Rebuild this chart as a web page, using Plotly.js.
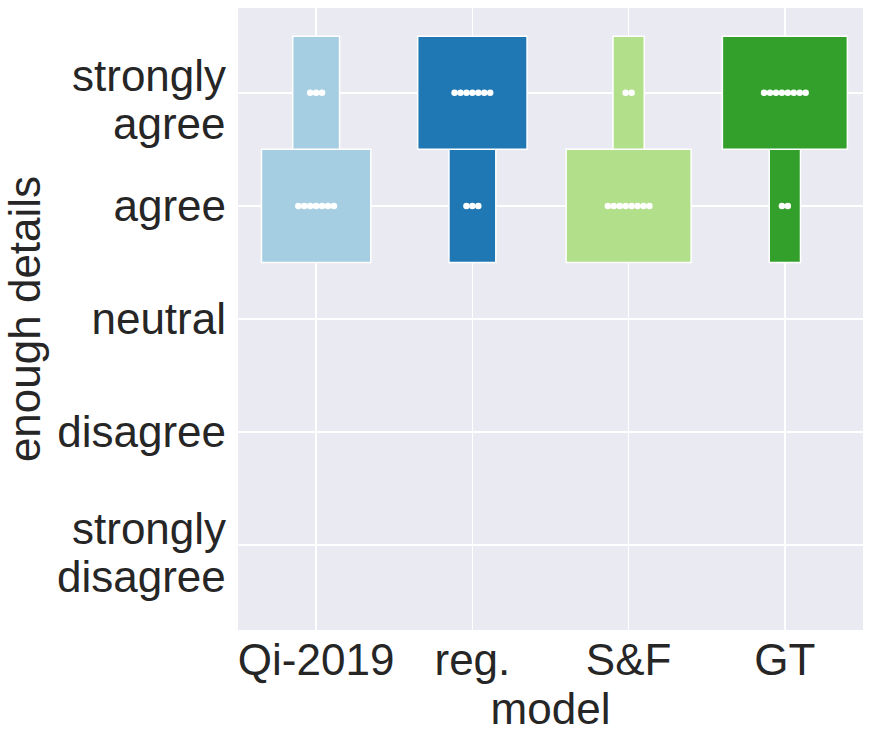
<!DOCTYPE html>
<html>
<head>
<meta charset="utf-8">
<script src="https://cdn.plot.ly/plotly-3.0.1.min.js"></script>
<style>html,body{margin:0;padding:0;background:#fff;}#chart{width:872px;height:737px;}</style>
</head>
<body>
<div id="chart"></div>
<script>
var models = ["Qi-2019", "reg.", "S&F", "GT"];
// y tick labels, one entry per level (bottom to top), each split into lines
var levels = [["strongly", "disagree"], ["disagree"], ["neutral"], ["agree"], ["strongly", "agree"]];
var colors = ["#a6cee3", "#1f78b4", "#b2df8a", "#33a02c"];
// counts of responses per model at each level (index matches levels)
var qiCounts  = [0, 0, 0, 7, 3];
var regCounts = [0, 0, 0, 3, 7];
var sfCounts  = [0, 0, 0, 8, 2];
var gtCounts  = [0, 0, 0, 2, 8];
var allCounts = [qiCounts, regCounts, sfCounts, gtCounts];
var totals = 10;
var dotStep = 0.038;

var traces = [];
allCounts.forEach(function (counts, m) {
  var xs = [], ys = [], ws = [], bs = [];
  counts.forEach(function (c, lv) {
    if (c > 0) {
      xs.push(m); ys.push(1); bs.push(lv - 0.5); ws.push(c / totals);
    }
  });
  traces.push({
    type: "bar", x: xs, y: ys, base: bs, width: ws,
    marker: {color: colors[m], line: {color: "#ffffff", width: 1.5}},
    hoverinfo: "skip", showlegend: false
  });
});
allCounts.forEach(function (counts, m) {
  var dx = [], dy = [];
  counts.forEach(function (c, lv) {
    for (var i = 0; i < c; i++) {
      dx.push(m + (i - (c - 1) / 2) * dotStep);
      dy.push(lv);
    }
  });
  traces.push({
    type: "scatter", mode: "markers", x: dx, y: dy,
    marker: {color: "#ffffff", size: 6.5},
    hoverinfo: "skip", showlegend: false
  });
});

var fontFam = "Arial, Liberation Sans, sans-serif";
var tickText = levels.map(function (l) { return l.length === 1 ? l[0] : ""; });
var annotations = [];
levels.forEach(function (l, lv) {
  if (l.length > 1) {
    [17, -31].forEach(function (sh, k) {
      annotations.push({
        xref: "paper", yref: "y", x: 0, y: lv, xanchor: "right", yanchor: "middle",
        xshift: -10, yshift: sh, text: l[k], showarrow: false,
        font: {family: fontFam, size: 44, color: "#262626"}
      });
    });
  }
});

var layout = {
  width: 872, height: 737,
  margin: {l: 238, r: 9, t: 8, b: 107},
  paper_bgcolor: "#ffffff", plot_bgcolor: "#eaeaf2",
  barmode: "overlay",
  font: {family: fontFam, color: "#262626", size: 44},
  annotations: annotations,
  xaxis: {
    range: [-0.5, 3.5], tickvals: [0, 1, 2, 3], ticktext: models,
    showgrid: true, gridcolor: "#ffffff", gridwidth: 1.5, zeroline: false,
    ticks: "", tickfont: {size: 44},
    title: {text: "model", font: {size: 44}, standoff: 0}
  },
  yaxis: {
    range: [-0.75, 4.75], tickvals: [0, 1, 2, 3, 4], ticktext: tickText,
    showgrid: true, gridcolor: "#ffffff", gridwidth: 1.5, zeroline: false,
    ticks: "", tickfont: {size: 44}, ticklabelstandoff: 11,
    title: {text: "enough details", font: {size: 44}, standoff: 10}
  }
};
Plotly.newPlot("chart", traces, layout, {displayModeBar: false, staticPlot: true});
</script>
</body>
</html>
